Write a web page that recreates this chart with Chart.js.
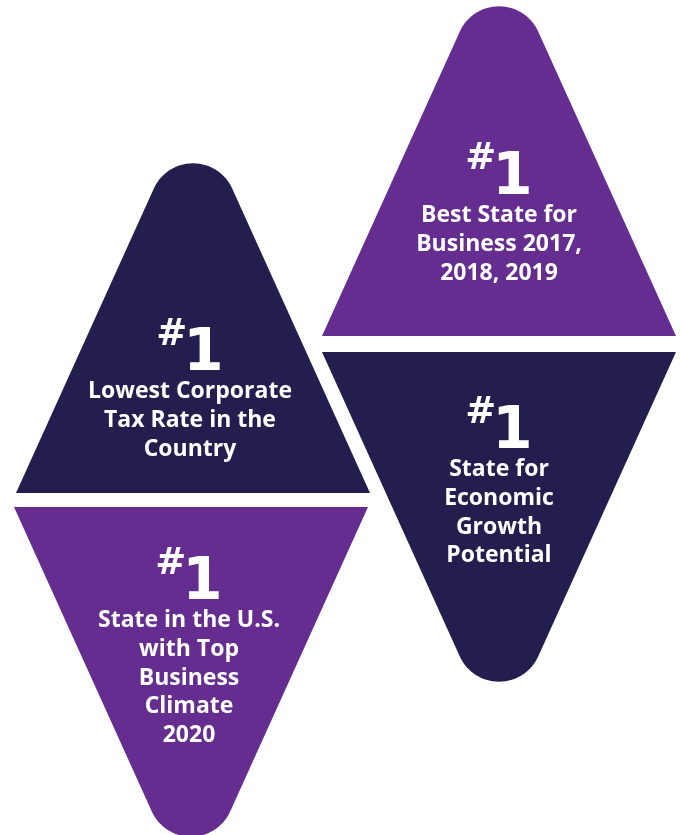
<!DOCTYPE html>
<html>
<head>
<meta charset="utf-8">
<script src="https://cdn.jsdelivr.net/npm/chart.js@4.4.0/dist/chart.umd.min.js"></script>
<style>
  html, body { margin: 0; padding: 0; background: #fff; }
  #wrap { width: 683px; height: 835px; }
</style>
</head>
<body>
<div id="wrap"><canvas id="rankChart" width="683" height="835"></canvas></div>
<script>
// Datos: cada triángulo es una distinción
const categorias = [
  ['Lowest Corporate', 'Tax Rate in the', 'Country'],
  ['Best State for', 'Business 2017,', '2018, 2019'],
  ['State in the U.S.', 'with Top', 'Business', 'Climate', '2020'],
  ['State for', 'Economic', 'Growth', 'Potential']
];
const posiciones = [1, 1, 1, 1];
const colores = ['#241e4f', '#662d91', '#662d91', '#241e4f'];

// Geometría de los triángulos (en unidades de la escala, igual a píxeles)
const triangulos = [
  { cx: 193, base: 493, dir: 1, textoX: 190, rangoY: 370 },
  { cx: 499, base: 336, dir: 1, textoX: 499, rangoY: 194 },
  { cx: 191, base: 507, dir: -1, textoX: 189, rangoY: 599 },
  { cx: 499, base: 352, dir: -1, textoX: 499, rangoY: 448 }
];
const MEDIO_ANCHO = 177;
const ALTO = 391;
const RADIO = 43;
const FUENTE_NUM = '"DejaVu Sans"';
const FUENTE_TXT = '"Open Sans"';

// Contorno del triángulo con la punta redondeada
function contorno(t) {
  const ang = Math.atan2(MEDIO_ANCHO, ALTO);
  const apexY = t.base - t.dir * ALTO;
  const cy = apexY + t.dir * RADIO / Math.sin(ang);
  const lim = Math.PI / 2 - ang;
  const pts = [{ x: t.cx - MEDIO_ANCHO, y: t.base }];
  const pasos = 30;
  for (let k = 0; k <= pasos; k++) {
    const phi = -lim + (2 * lim * k) / pasos;
    pts.push({ x: t.cx + RADIO * Math.sin(phi), y: cy - t.dir * RADIO * Math.cos(phi) });
  }
  pts.push({ x: t.cx + MEDIO_ANCHO, y: t.base });
  return pts;
}

const datasets = triangulos.map((t, i) => ({
  label: categorias[i].join(' '),
  data: contorno(t),
  showLine: true,
  fill: 'shape',
  backgroundColor: colores[i],
  borderColor: 'rgba(0,0,0,0)',
  borderWidth: 0,
  pointRadius: 0,
  tension: 0
}));

// Textos blancos dentro de cada triángulo
const textos = {
  id: 'textos',
  afterDatasetsDraw(chart) {
    const { ctx, scales: { x, y } } = chart;
    ctx.save();
    ctx.fillStyle = '#ffffff';
    ctx.textBaseline = 'alphabetic';
    triangulos.forEach((t, i) => {
      const px = x.getPixelForValue(t.textoX);
      const py = y.getPixelForValue(t.rangoY);
      const num = String(posiciones[i]);
      ctx.font = `bold 37px ${FUENTE_NUM}`;
      const wH = ctx.measureText('#').width;
      ctx.font = `bold 58px ${FUENTE_NUM}`;
      const wN = ctx.measureText(num).width;
      const ini = px - (wH - 4 + wN) / 2;
      ctx.textAlign = 'left';
      ctx.font = `bold 37px ${FUENTE_NUM}`;
      ctx.fillText('#', ini, py - 25);
      ctx.font = `bold 58px ${FUENTE_NUM}`;
      ctx.fillText(num, ini + wH - 4, py);
      ctx.textAlign = 'center';
      ctx.font = `bold 23px ${FUENTE_TXT}`;
      categorias[i].forEach((linea, j) => {
        ctx.fillText(linea, px, py + 28 + j * 28.8);
      });
    });
    ctx.restore();
  }
};

const chart = new Chart(document.getElementById('rankChart').getContext('2d'), {
  type: 'scatter',
  data: { datasets },
  options: {
    responsive: false,
    animation: false,
    events: [],
    layout: { padding: 0 },
    plugins: { legend: { display: false }, tooltip: { enabled: false } },
    scales: {
      x: { type: 'linear', min: 0, max: 683, display: false },
      y: { type: 'linear', min: 0, max: 835, reverse: true, display: false }
    }
  },
  plugins: [textos]
});
</script>
</body>
</html>
